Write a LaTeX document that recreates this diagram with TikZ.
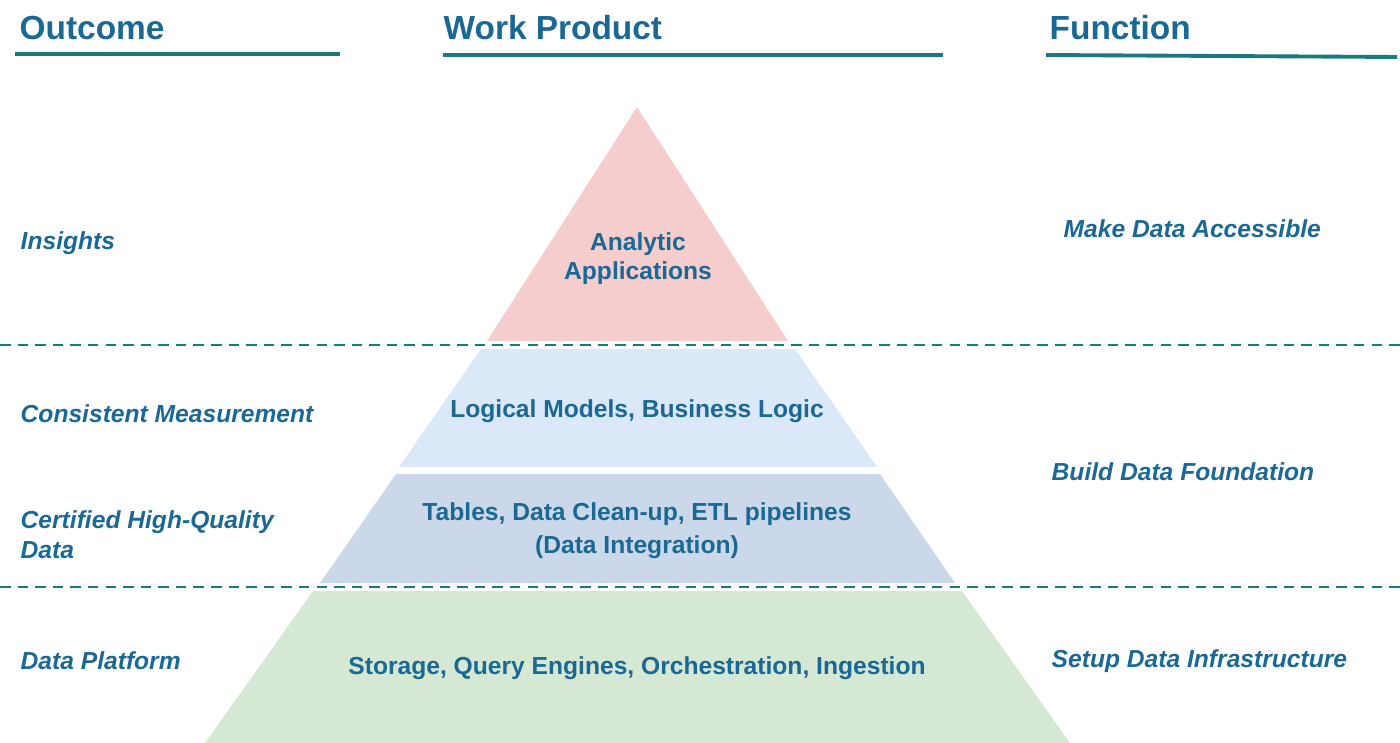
\documentclass[tikz,border=0pt]{standalone}
\usepackage{fontspec}
\setmainfont{Liberation Sans}
\usepackage{xcolor}
\usepackage{tikz}
\usetikzlibrary{positioning}

\definecolor{txtblue}{RGB}{26,104,148}
\definecolor{rule}{RGB}{24,121,126}
\definecolor{topred}{RGB}{245,205,204}
\definecolor{midblue}{RGB}{218,232,248}
\definecolor{lowblue}{RGB}{203,216,234}
\definecolor{basegreen}{RGB}{213,232,212}

\begin{document}
\begin{tikzpicture}[
  x=0.01cm, y=-0.01cm,
  head/.style={anchor=west, text=txtblue, font=\fontsize{9.5}{11}\selectfont\bfseries, inner sep=0pt},
  side/.style={anchor=west, text=txtblue, align=left, inner sep=0pt,
               font=\fontsize{7}{8.5}\selectfont\bfseries\itshape},
  layer/.style={text=txtblue, align=center, inner sep=0pt,
                font=\fontsize{7}{8.3}\selectfont\bfseries},
  underline/.style={rule, line width=1.1pt},
  sep/.style={rule, line width=0.8pt, dash pattern=on 3pt off 2pt}
]
  \useasboundingbox (0,0) rectangle (1400,743);

  \node[head] (outcome) at (19,28) {Outcome};
  \node[head] (work)    at (443,28) {Work Product};
  \node[head] (func)    at (1049,28) {Function};

  \draw[underline] (15,54) -- (340,54);
  \draw[underline] (443,55) -- (943,55);
  \draw[underline] (1046,55) -- (1397,57);

  \fill[topred]    (637,107) -- (788,341) -- (487,341) -- cycle;
  \fill[midblue]   (481,349) -- (795,349) -- (877,467) -- (399,467) -- cycle;
  \fill[lowblue]   (396,474) -- (880,474) -- (955,583) -- (320,583) -- cycle;
  \fill[basegreen] (313,591) -- (962,591) -- (1070,743) -- (205,743) -- cycle;

  \draw[sep] (0,345) -- (1400,345);
  \draw[sep] (0,587) -- (1400,587);

  \node[layer] (apps)     at (638,259) {Analytic\\Applications};
  \node[layer] (models)   at (637,411) {Logical Models, Business Logic};
  \node[layer, font=\fontsize{7}{9.4}\selectfont\bfseries]
               (tables)   at (637,531) {Tables, Data Clean-up, ETL pipelines\\(Data Integration)};
  \node[layer] (platform) at (637,668) {Storage, Query Engines, Orchestration, Ingestion};

  \node[side] (insights)  at (20,243) {Insights};
  \node[side] (measure)   at (20,414) {Consistent Measurement};
  \node[side] (certified) at (20,535) {Certified High-Quality\\Data};
  \node[side] (dplatform) at (20,661) {Data Platform};

  \node[side] (access)    at (1063,229) {Make Data Accessible};
  \node[side] (found)     at (1051,472) {Build Data Foundation};
  \node[side] (infra)     at (1051,661) {Setup Data Infrastructure};
\end{tikzpicture}
\end{document}
